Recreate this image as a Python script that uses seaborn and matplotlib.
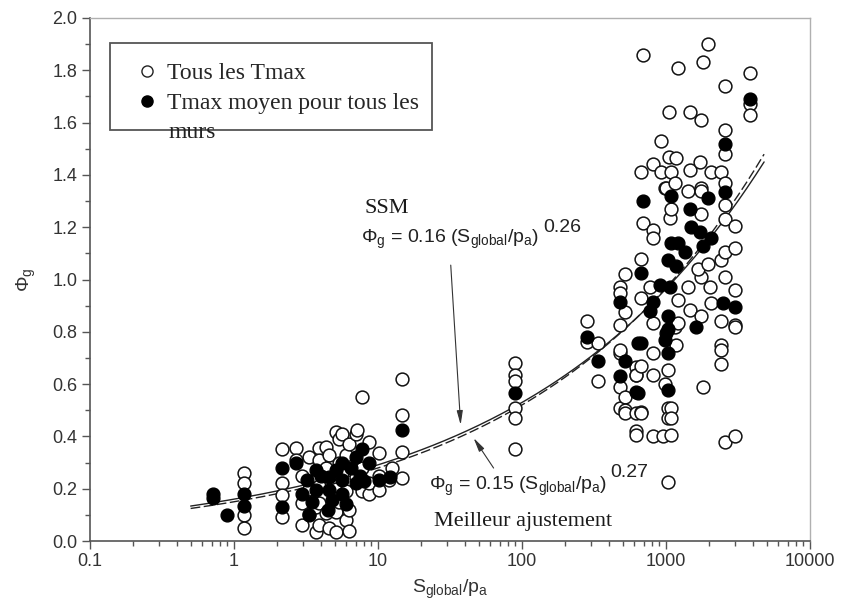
import numpy as np
import pandas as pd
import matplotlib
matplotlib.use("Agg")
import matplotlib.pyplot as plt
from matplotlib.patches import Rectangle
from matplotlib.lines import Line2D
import seaborn as sns

# ---------------- data ----------------
# "Tous les Tmax" (open circles)
all_x = [1.18, 1.18, 1.18, 1.18,
         2.17, 2.17, 2.17, 2.17,
         2.71, 2.71,
         2.98, 2.98, 2.98,
         3.33, 3.33, 3.33,
         3.72, 3.72,
         3.91, 3.91, 3.91, 3.91, 3.91,
         4.37, 4.37, 4.37,
         4.58, 4.58,
         5.12, 5.12, 5.12, 5.12,
         5.37, 5.37, 5.37,
         5.64, 5.64,
         6.01, 6.01, 6.01,
         6.30, 6.30, 6.30,
         7.05, 7.05,
         7.16,
         7.75, 7.75, 7.75,
         8.67, 8.67, 8.67,
         10.2, 10.2, 10.2,
         11.9, 12.5,
         14.7, 14.7, 14.7, 14.7,
         90, 90, 90, 90, 90, 90,
         284, 284,
         338, 338,
         481, 481, 481, 481, 481, 481, 481,
         520, 520, 520, 520, 520,
         620, 620, 620, 620, 620, 620,
         671, 671, 671, 671, 671, 671,
         693, 693,
         775,
         813, 813, 813, 813, 813, 813, 813,
         923, 923,
         953, 984, 984, 1000,
         1033, 1033, 1033, 1033,
         1050, 1050, 1067,
         1084, 1084, 1084, 1084, 1084, 1084,
         1155, 1155,
         1173, 1173,
         1210, 1210, 1210,
         1419, 1419,
         1466, 1466, 1466,
         1718,
         1746, 1746, 1746, 1746, 1746, 1746,
         1665, 1803, 1803,
         1954, 1954, 2016,
         2047, 2047,
         2402, 2402, 2402, 2402, 2402, 2402,
         2559, 2559, 2559, 2559, 2559, 2559, 2559, 2559, 2559,
         3003, 3003, 3003, 3003, 3003, 3003,
         3811, 3811, 3811]
all_y = [0.26, 0.22, 0.10, 0.05,
         0.35, 0.22, 0.175, 0.09,
         0.355, 0.31,
         0.145, 0.06, 0.25,
         0.32, 0.105, 0.20,
         0.035, 0.13,
         0.355, 0.31, 0.145, 0.06, 0.21,
         0.107, 0.28, 0.36,
         0.33, 0.05,
         0.415, 0.11, 0.035, 0.20,
         0.39, 0.15, 0.30,
         0.41, 0.26,
         0.08, 0.33, 0.19,
         0.04, 0.37, 0.12,
         0.245, 0.41,
         0.425,
         0.55, 0.28, 0.19,
         0.38, 0.18, 0.22,
         0.335, 0.195, 0.25,
         0.235, 0.28,
         0.62, 0.48, 0.34, 0.24,
         0.68, 0.635, 0.61, 0.51, 0.47, 0.35,
         0.84, 0.76,
         0.757, 0.61,
         0.97, 0.95, 0.72, 0.59, 0.51, 0.826, 0.73,
         1.02, 0.875, 0.55, 0.50, 0.49,
         0.665, 0.635, 0.42, 0.405, 0.49, 0.635,
         1.41, 1.08, 0.93, 0.495, 0.67, 0.49,
         1.86, 1.215,
         0.97,
         1.44, 1.19, 1.16, 0.72, 0.635, 0.40, 0.835,
         1.53, 1.41,
         0.40, 1.35, 0.60, 1.35,
         0.51, 0.47, 0.655, 0.225,
         1.64, 1.47, 1.235,
         1.41, 1.27, 0.405, 0.51, 0.47, 0.82,
         1.37, 0.82,
         1.465, 0.75,
         1.81, 0.92, 0.835,
         1.34, 0.97,
         1.64, 1.42, 0.885,
         1.45,
         1.61, 1.35, 1.34, 1.25, 1.01, 0.86,
         1.04, 1.83, 0.59,
         1.90, 1.06, 0.97,
         1.41, 0.91,
         1.41, 1.075, 0.84, 0.75, 0.73, 0.675,
         1.74, 1.57, 1.48, 1.37, 1.285, 1.23, 1.105, 1.01, 0.38,
         1.205, 1.12, 0.96, 0.826, 0.82, 0.40,
         1.79, 1.67, 1.63]

# "Tmax moyen pour tous les murs" (filled circles)
mean_x = [0.72, 0.72, 0.89, 1.18, 1.18, 2.17, 2.17, 2.71, 3.72, 3.2,
          2.98, 3.72, 3.33, 7.75, 7.05, 5.64, 5.12, 8.67, 4.58, 5.64,
          7.05, 4.58, 4.81, 5.64, 10.2, 12.2, 4.0, 6.5, 7.5, 8.0,
          3.5, 6.0, 4.5, 14.7, 90, 284, 338, 481, 520, 481,
          620, 671, 671, 693, 813, 775, 908, 1067, 1033, 1000,
          1033, 1033, 984, 1033, 1084, 1489, 1466, 1718, 2047, 1803,
          1084, 1211, 1353, 1033, 1173, 1954, 2559, 2559, 3811, 1613,
          2480, 3003, 637, 643]
mean_y = [0.18, 0.165, 0.10, 0.18, 0.135, 0.28, 0.13, 0.30, 0.27, 0.235,
          0.18, 0.195, 0.10, 0.35, 0.32, 0.30, 0.27, 0.30, 0.245, 0.235,
          0.22, 0.195, 0.157, 0.18, 0.235, 0.245, 0.25, 0.28, 0.25, 0.23,
          0.15, 0.14, 0.12, 0.425, 0.565, 0.78, 0.69, 0.915, 0.69, 0.63,
          0.57, 1.025, 0.757, 1.30, 0.915, 0.88, 0.98, 0.97, 0.86, 0.795,
          0.577, 0.72, 0.77, 0.81, 1.32, 1.20, 1.27, 1.18, 1.16, 1.13,
          1.14, 1.14, 1.105, 1.075, 1.05, 1.31, 1.335, 1.52, 1.69, 0.82,
          0.91, 0.895, 0.565, 0.757]

# fitted power laws printed on the chart: Phi_g = a * (S/pa)^b
fit_names = ["SSM", "Meilleur ajustement"]
fit_coef = [0.16, 0.15]
fit_exp = [0.26, 0.27]
fit_range = [0.5, 4800]

x_ticks = [0.1, 1, 10, 100, 1000, 10000]
x_ticklabels = ["0.1", "1", "10", "100", "1000", "10000"]
y_ticks = [0.0, 0.2, 0.4, 0.6, 0.8, 1.0, 1.2, 1.4, 1.6, 1.8, 2.0]

# ---------------- style ----------------
sns.set_theme(style="white")
plt.rcParams['font.family'] = ['Liberation Sans', 'DejaVu Sans']
plt.rcParams['mathtext.fontset'] = 'custom'
plt.rcParams['mathtext.rm'] = 'Liberation Sans'
plt.rcParams['mathtext.it'] = 'Liberation Sans:italic'

fig = plt.figure(figsize=(8.42, 6.09), dpi=100)
ax = fig.add_axes([90 / 842, 1 - 541 / 609, 720 / 842, 523 / 609])

# curves
xs = np.geomspace(fit_range[0], fit_range[1], 200)
curve_df = pd.concat([
    pd.DataFrame({"x": xs, "y": fit_coef[i] * xs ** fit_exp[i], "fit": fit_names[i]})
    for i in range(2)
])
sns.lineplot(data=curve_df[curve_df.fit == "SSM"], x="x", y="y", ax=ax,
             color="#222222", lw=1.0, zorder=2, legend=False)
sns.lineplot(data=curve_df[curve_df.fit == "Meilleur ajustement"], x="x", y="y", ax=ax,
             color="#222222", lw=1.0, zorder=2, legend=False, dashes=False,
             linestyle=(0, (7, 2.5)))

df_all = pd.DataFrame({"x": all_x, "y": all_y})
df_mean = pd.DataFrame({"x": mean_x, "y": mean_y})
sns.scatterplot(data=df_all, x="x", y="y", ax=ax, s=85, marker="o",
                facecolor="white", edgecolor="#111111", linewidth=1.1, zorder=3)
sns.scatterplot(data=df_mean, x="x", y="y", ax=ax, s=85, marker="o",
                color="black", edgecolor="black", linewidth=1.0, zorder=4)

ax.set_xscale("log")
ax.set_xlim(0.1, 10000)
ax.set_ylim(0, 2.0)
ax.set_xticks(x_ticks)
ax.set_xticklabels(x_ticklabels)
ax.set_yticks(y_ticks)
ax.set_yticklabels([f"{v:.1f}" for v in y_ticks])
ax.xaxis.set_minor_locator(matplotlib.ticker.LogLocator(base=10, subs=np.arange(2, 10)))
ax.xaxis.set_minor_formatter(matplotlib.ticker.NullFormatter())
ax.yaxis.set_minor_locator(matplotlib.ticker.MultipleLocator(0.1))
ax.tick_params(axis="both", which="major", direction="out", length=6, width=1,
               color="#555555", labelsize=13, labelcolor="#333333", pad=3,
               bottom=True, left=True)
ax.tick_params(axis="both", which="minor", direction="out", length=3.5, width=1,
               color="#555555", bottom=True, left=True)
for s in ["left", "bottom"]:
    ax.spines[s].set_color("#555555")
    ax.spines[s].set_linewidth(1.2)
for s in ["top", "right"]:
    ax.spines[s].set_color("#b0b0b0")
    ax.spines[s].set_linewidth(1.0)

ax.set_xlabel("S$_\\mathrm{global}$/p$_\\mathrm{a}$", fontsize=14, color="#333333", labelpad=5)
ax.set_ylabel("Φ$_\\mathrm{g}$", fontsize=14, color="#333333", labelpad=10)

# legend: box + entries
ax.add_patch(Rectangle((0.028, 0.786), 0.447, 0.166, transform=ax.transAxes,
                       facecolor="white", edgecolor="#555555", lw=1.3, zorder=5))
handles = [Line2D([], [], marker="o", ls="", markersize=8, markerfacecolor="white",
                  markeredgecolor="#222222", markeredgewidth=1.0),
           Line2D([], [], marker="o", ls="", markersize=8, markerfacecolor="black",
                  markeredgecolor="black")]
leg = ax.legend(handles, ["Tous les Tmax", "Tmax moyen pour tous les"],
                loc="upper left", bbox_to_anchor=(0.066, 0.915), frameon=False,
                prop={"family": "Liberation Serif", "size": 17},
                handletextpad=0.45, labelspacing=0.35, handlelength=0.8,
                borderaxespad=0, borderpad=0)
leg.set_zorder(6)
ax.text(0.109, 0.782, "murs", transform=ax.transAxes, family="Liberation Serif",
        fontsize=17, color="#222222", va="center", ha="left", zorder=7)

# annotations
serif = dict(family="Liberation Serif", fontsize=16, color="#1a1a1a")
sans = dict(fontsize=14, color="#222222")
ax.text(8.0, 1.27, "SSM", va="center", ha="left", **serif)
ax.text(7.6, 1.155, "Φ$_\\mathrm{g}$ = 0.16 (S$_\\mathrm{global}$/p$_\\mathrm{a}$)",
        va="center", ha="left", **sans)
ax.text(141, 1.20, "0.26", va="center", ha="left", **sans)
ax.text(22.5, 0.21, "Φ$_\\mathrm{g}$ = 0.15 (S$_\\mathrm{global}$/p$_\\mathrm{a}$)",
        va="center", ha="left", **sans)
ax.text(409, 0.262, "0.27", va="center", ha="left", **sans)
ax.text(24.4, 0.073, "Meilleur ajustement", va="center", ha="left", **serif)

ax.annotate("", xy=(37.5, 0.444), xytext=(32, 1.055),
            arrowprops=dict(arrowstyle="-|>,head_length=0.7,head_width=0.15",
                            lw=0.8, color="#333333", shrinkA=0, shrinkB=0))
ax.annotate("", xy=(46.1, 0.394), xytext=(63.5, 0.279),
            arrowprops=dict(arrowstyle="-|>,head_length=0.7,head_width=0.15",
                            lw=0.8, color="#333333", shrinkA=0, shrinkB=0))

fig.savefig("out.png", dpi=100)
